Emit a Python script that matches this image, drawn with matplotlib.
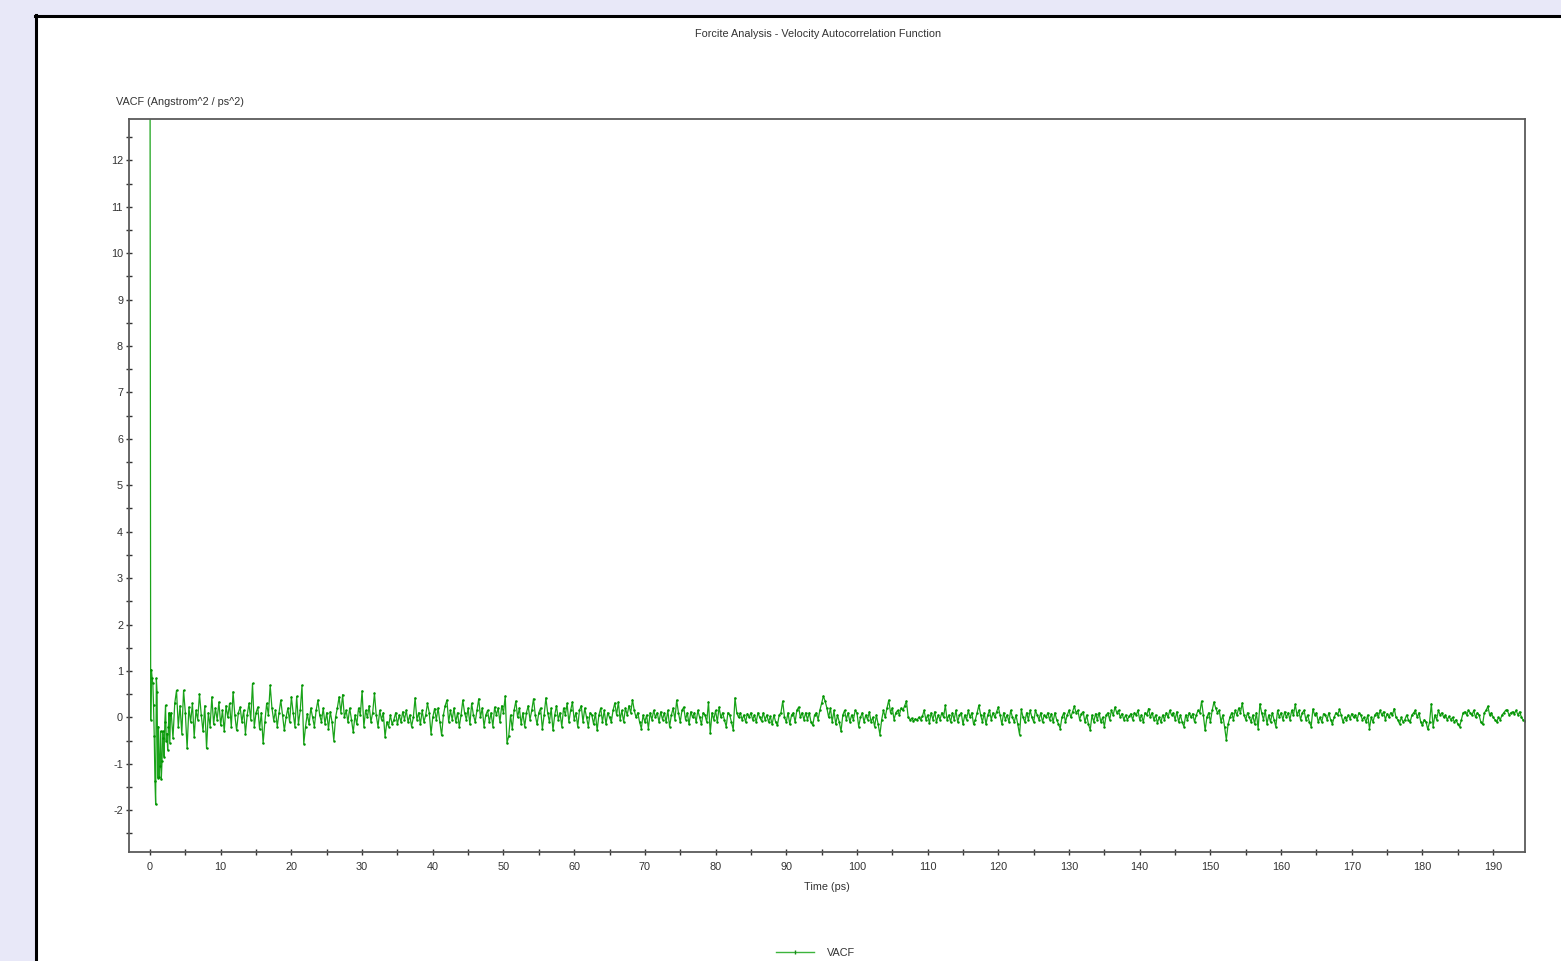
"""
Forcite VACF plot, redrawn with matplotlib
"""
import numpy as np
import matplotlib.pyplot as plt
from matplotlib.lines import Line2D

# First 3 ps, sampled every 0.1 ps
VACF_START = [15.0, -0.05, 1.03, 0.85, 0.73, 0.26, -0.4, -1.36, -1.87, 0.84,
              0.55, -1.3, -0.2, -1.28, -1.05, -0.3, -1.33, -0.95, -0.3, -0.45,
              -0.85, -0.1, 0.26, -0.5, -0.35, -0.7, -0.2, 0.1, -0.55, 0.05]
START_STEP = 0.1

# From 3 ps on, sampled every 0.25 ps (one row = 5 ps)
TAIL_T0 = 3.0
TAIL_STEP = 0.25
VACF_3_28 = [
    0.1, -0.45, 0.3, 0.58, -0.2, 0.25, -0.35, 0.58, 0.1, -0.67,
    0.22, -0.1, 0.3, -0.42, 0.15, -0.05, 0.5, 0.05, -0.3, 0.25,
    -0.67, 0.1, -0.2, 0.44, -0.15, 0.2, -0.05, 0.33, -0.17, 0.15,
    -0.3, 0.25, 0.0, 0.3, -0.2, 0.55, 0.05, -0.28, 0.1, 0.22,
    -0.1, 0.15, -0.35, 0.05, 0.3, -0.05, 0.73, -0.2, 0.1, 0.22,
    -0.25, 0.1, -0.56, -0.1, 0.3, 0.05, 0.69, 0.2, -0.07, 0.15,
    -0.2, 0.1, 0.37, 0.05, -0.28, 0.0, 0.2, -0.1, 0.44, 0.1,
    -0.2, 0.45, -0.14, 0.15, 0.69, -0.57, -0.2, 0.08, -0.15, 0.2,
    0.0, -0.2, 0.15, 0.37, 0.05, -0.1, 0.2, -0.14, 0.1, -0.25,
    0.12, -0.1, -0.5, 0.0, 0.2, 0.44, 0.1, 0.49, 0.0, 0.15]
VACF_28_53 = [
    -0.1, 0.2, -0.05, -0.32, 0.05, -0.15, 0.2, 0.05, 0.57, -0.2,
    0.15, 0.0, 0.25, -0.1, 0.1, 0.52, 0.05, -0.2, 0.15, -0.05,
    0.1, -0.42, -0.1, -0.2, 0.05, -0.15, -0.05, 0.1, -0.15, 0.05,
    -0.1, 0.12, -0.05, 0.15, -0.1, 0.05, -0.2, 0.0, 0.42, -0.05,
    0.1, -0.15, 0.15, -0.1, 0.05, 0.3, 0.1, -0.35, 0.0, 0.19,
    -0.05, 0.2, -0.1, -0.39, 0.05, 0.25, 0.37, -0.1, 0.15, -0.05,
    0.2, -0.1, 0.1, -0.2, 0.05, 0.37, 0.1, -0.05, 0.2, -0.15,
    0.3, 0.05, -0.1, 0.15, 0.4, 0.0, 0.2, -0.2, 0.05, 0.15,
    -0.1, 0.1, -0.2, 0.22, 0.05, 0.2, -0.1, 0.25, 0.1, 0.46,
    -0.55, -0.4, 0.05, -0.25, 0.15, 0.35, 0.0, 0.2, -0.15, 0.1]
VACF_53_78 = [
    -0.2, 0.1, 0.25, -0.05, 0.15, 0.4, 0.05, -0.15, 0.1, 0.2,
    -0.25, 0.05, 0.42, 0.1, -0.1, 0.2, -0.28, 0.05, 0.25, -0.05,
    0.1, -0.2, 0.2, 0.05, 0.3, -0.1, 0.15, 0.33, -0.05, 0.1,
    -0.2, 0.15, 0.25, -0.1, 0.2, 0.0, -0.2, 0.1, 0.05, -0.15,
    0.1, -0.28, 0.05, 0.2, -0.1, 0.15, -0.15, 0.1, 0.0, -0.1,
    0.15, 0.31, 0.05, 0.33, -0.05, 0.15, -0.1, 0.2, 0.05, 0.25,
    0.1, 0.38, 0.15, 0.0, 0.1, -0.1, -0.24, 0.05, -0.1, 0.05,
    -0.24, 0.1, -0.05, 0.15, 0.0, 0.1, -0.1, 0.12, -0.05, 0.1,
    -0.1, 0.15, -0.2, 0.05, 0.2, -0.05, 0.37, 0.1, -0.1, 0.15,
    0.22, -0.05, 0.1, -0.15, 0.12, 0.0, 0.1, -0.1, 0.15, 0.0]
VACF_78_103 = [
    -0.15, 0.1, 0.05, -0.1, 0.33, -0.34, 0.1, -0.05, 0.15, -0.1,
    0.22, 0.0, 0.1, -0.05, -0.2, 0.1, 0.05, -0.1, -0.27, 0.42,
    0.1, 0.0, 0.1, -0.05, 0.05, -0.1, 0.08, 0.0, 0.1, -0.05,
    0.05, -0.1, 0.1, 0.0, -0.08, 0.1, -0.05, 0.05, -0.1, 0.02,
    -0.15, 0.05, -0.1, -0.17, 0.05, 0.1, 0.35, 0.0, -0.1, 0.1,
    -0.15, 0.05, 0.1, -0.1, 0.15, 0.22, 0.0, 0.1, -0.05, 0.1,
    -0.05, 0.1, -0.1, -0.17, 0.05, 0.1, -0.05, 0.15, 0.3, 0.46,
    0.35, 0.2, 0.0, 0.2, -0.1, 0.15, -0.15, 0.05, -0.1, -0.3,
    0.05, 0.15, -0.05, 0.1, -0.1, 0.05, -0.05, 0.15, 0.1, -0.2,
    0.0, 0.1, -0.1, 0.05, -0.05, 0.12, -0.1, 0.0, -0.2, 0.05]
VACF_103_128 = [
    -0.15, -0.37, -0.05, 0.15, 0.0, 0.2, 0.37, 0.1, 0.2, -0.05,
    0.1, 0.15, 0.05, 0.2, 0.15, 0.25, 0.35, 0.0, -0.05, -0.02,
    -0.08, -0.03, -0.06, 0.0, -0.05, 0.02, 0.15, -0.05, 0.05, -0.12,
    0.1, -0.05, 0.12, -0.1, 0.05, -0.05, 0.1, 0.0, 0.26, -0.05,
    0.05, -0.1, 0.1, -0.05, 0.15, -0.1, 0.05, 0.1, -0.15, 0.05,
    -0.05, 0.15, 0.0, 0.1, -0.15, -0.05, 0.1, 0.26, 0.05, -0.1,
    0.1, -0.15, 0.05, 0.15, -0.05, 0.1, 0.0, 0.12, 0.22, 0.05,
    -0.15, 0.1, -0.05, 0.05, -0.1, 0.15, 0.0, -0.1, 0.05, -0.15,
    -0.37, 0.17, 0.0, -0.1, 0.1, -0.05, 0.15, 0.0, -0.1, 0.15,
    0.05, -0.05, 0.1, -0.1, 0.05, 0.0, 0.1, -0.05, 0.08, -0.1]
VACF_128_153 = [
    0.1, -0.05, -0.14, -0.24, 0.0, 0.1, -0.1, 0.05, 0.15, 0.0,
    0.12, 0.24, 0.1, 0.15, -0.05, 0.08, 0.12, -0.1, 0.05, -0.15,
    -0.27, 0.05, -0.1, 0.08, -0.05, 0.1, -0.1, 0.0, -0.2, 0.05,
    0.1, -0.05, 0.15, 0.05, 0.22, 0.1, 0.15, 0.0, 0.08, -0.05,
    0.05, -0.05, 0.02, 0.08, -0.05, 0.1, 0.05, 0.15, -0.05, 0.05,
    -0.1, 0.1, 0.05, 0.19, 0.0, 0.1, -0.05, 0.05, -0.12, 0.0,
    -0.1, 0.05, -0.05, 0.1, 0.0, 0.15, 0.05, 0.1, -0.05, 0.12,
    -0.1, 0.05, -0.1, -0.2, 0.05, -0.05, 0.1, 0.0, 0.08, -0.1,
    0.05, 0.15, 0.1, 0.35, 0.05, -0.28, 0.0, 0.1, -0.1, 0.15,
    0.33, 0.2, 0.1, 0.15, -0.1, 0.05, -0.2, -0.48, -0.15, 0.0]
VACF_153_178 = [
    0.1, -0.05, 0.15, 0.05, 0.2, 0.1, 0.31, 0.05, -0.05, 0.1,
    0.0, -0.1, 0.05, -0.15, 0.1, -0.24, 0.29, 0.1, -0.05, 0.15,
    -0.14, 0.05, -0.1, 0.1, -0.05, -0.2, 0.15, 0.0, 0.1, -0.05,
    0.12, 0.0, 0.1, -0.05, 0.15, 0.05, 0.28, 0.05, 0.15, -0.05,
    0.1, 0.15, -0.05, 0.05, -0.1, -0.2, 0.18, 0.05, 0.1, -0.1,
    0.0, -0.1, 0.08, 0.05, -0.05, 0.1, -0.05, -0.14, 0.0, 0.1,
    0.05, 0.17, 0.05, -0.1, 0.0, -0.05, 0.05, -0.03, 0.08, 0.0,
    0.05, -0.05, 0.1, 0.05, -0.05, 0.0, -0.1, 0.05, -0.24, 0.0,
    -0.1, 0.05, 0.1, 0.0, 0.15, 0.05, 0.12, -0.05, 0.08, 0.0,
    0.1, 0.05, 0.19, 0.0, -0.05, -0.14, 0.0, -0.1, -0.05, 0.05]
VACF_178_195 = [
    -0.05, -0.1, 0.05, 0.1, 0.15, 0.0, 0.1, -0.1, -0.17, -0.05,
    -0.1, -0.26, -0.1, 0.29, -0.2, 0.05, -0.05, 0.15, 0.05, 0.1,
    0.0, 0.05, -0.05, 0.02, -0.05, 0.0, -0.1, -0.05, -0.15, -0.2,
    -0.05, 0.1, 0.12, 0.05, 0.15, 0.1, 0.05, 0.15, 0.0, 0.1,
    0.05, -0.1, -0.15, 0.1, 0.15, 0.24, 0.05, 0.1, 0.0, -0.05,
    -0.1, 0.0, -0.05, 0.05, 0.1, 0.15, 0.15, 0.05, 0.1, 0.12,
    0.08, 0.15, 0.05, 0.12, 0.0, -0.06, -0.08, -0.05]

TITLE = "Forcite Analysis - Velocity Autocorrelation Function"
Y_LABEL = "VACF (Angstrom^2 / ps^2)"
X_LABEL = "Time (ps)"
SERIES = "VACF"

LINE_COLOR = "#1aa31a"
DOT_COLOR = "#009400"
TEXT_COLOR = "#333333"
FONT_SIZE = 7.8
plt.rcParams["font.family"] = ["Liberation Sans", "DejaVu Sans"]
plt.rcParams["axes.unicode_minus"] = False


def main():
    # build time axis for both sampling rates
    tail = np.concatenate([VACF_3_28, VACF_28_53, VACF_53_78, VACF_78_103,
                           VACF_103_128, VACF_128_153, VACF_153_178,
                           VACF_178_195])
    t_start = START_STEP * np.arange(len(VACF_START))
    t_tail = TAIL_T0 + TAIL_STEP * np.arange(len(tail))
    time = np.concatenate([t_start, t_tail])
    vacf = np.concatenate([VACF_START, tail])

    fig = plt.figure(figsize=(15.61, 9.61), dpi=100, facecolor="#e8e8f8")

    # white panel with black left/top edge, kept behind the axes
    fig.patches.append(plt.Rectangle((35 / 1561, 0), 1, 1 - 15 / 961,
                                     transform=fig.transFigure,
                                     facecolor="white", edgecolor="none",
                                     zorder=-5))
    fig.add_artist(Line2D([36 / 1561, 36 / 1561], [0, 1 - 15 / 961],
                          color="black", lw=2.2, transform=fig.transFigure,
                          zorder=-4))
    fig.add_artist(Line2D([35 / 1561, 1], [1 - 16 / 961, 1 - 16 / 961],
                          color="black", lw=2.2, transform=fig.transFigure,
                          zorder=-4))

    ax = fig.add_axes([129 / 1561, 1 - 852 / 961,
                       (1525 - 129) / 1561, (852 - 119) / 961])
    ax.plot(time, vacf, color=LINE_COLOR, lw=0.9, marker=".", ms=1.6,
            mfc=DOT_COLOR, mec=DOT_COLOR, label=SERIES)

    ax.set_xlim(-2.97, 194.5)
    ax.set_ylim(-2.9, 12.89)
    ax.set_xticks(np.arange(0, 191, 10))
    ax.set_xticks(np.arange(5, 195, 10), minor=True)
    ax.set_yticks(np.arange(-2, 13, 1))
    ax.set_yticks(np.arange(-2.5, 13, 1), minor=True)
    ax.tick_params(which="both", direction="inout", length=4.5, width=1,
                   color=TEXT_COLOR, labelsize=FONT_SIZE,
                   labelcolor=TEXT_COLOR)
    ax.tick_params(axis="x", pad=5)
    ax.tick_params(axis="y", pad=2)
    for side in ax.spines.values():
        side.set_color("#5a5a5a")
        side.set_linewidth(1.3)

    ax.set_xlabel(X_LABEL, fontsize=FONT_SIZE, color=TEXT_COLOR, labelpad=7)
    ax.text(-0.009, 1.016, Y_LABEL, transform=ax.transAxes,
            fontsize=FONT_SIZE, color=TEXT_COLOR, ha="left", va="bottom")
    fig.text(818 / 1561, 1 - 34 / 961, TITLE, fontsize=FONT_SIZE,
             color=TEXT_COLOR, ha="center", va="center")

    legend_line = Line2D([0], [0], color="#3cb43c", lw=1.0, marker="|",
                         ms=2.5, mec="#1a8a1a")
    fig.legend([legend_line], [SERIES], loc="center",
               bbox_to_anchor=(816 / 1561, 1 - 953 / 961), frameon=False,
               fontsize=FONT_SIZE, handlelength=3.5, handletextpad=1.2,
               labelcolor=TEXT_COLOR)

    fig.savefig("out.png", dpi=100, facecolor=fig.get_facecolor())


main()
